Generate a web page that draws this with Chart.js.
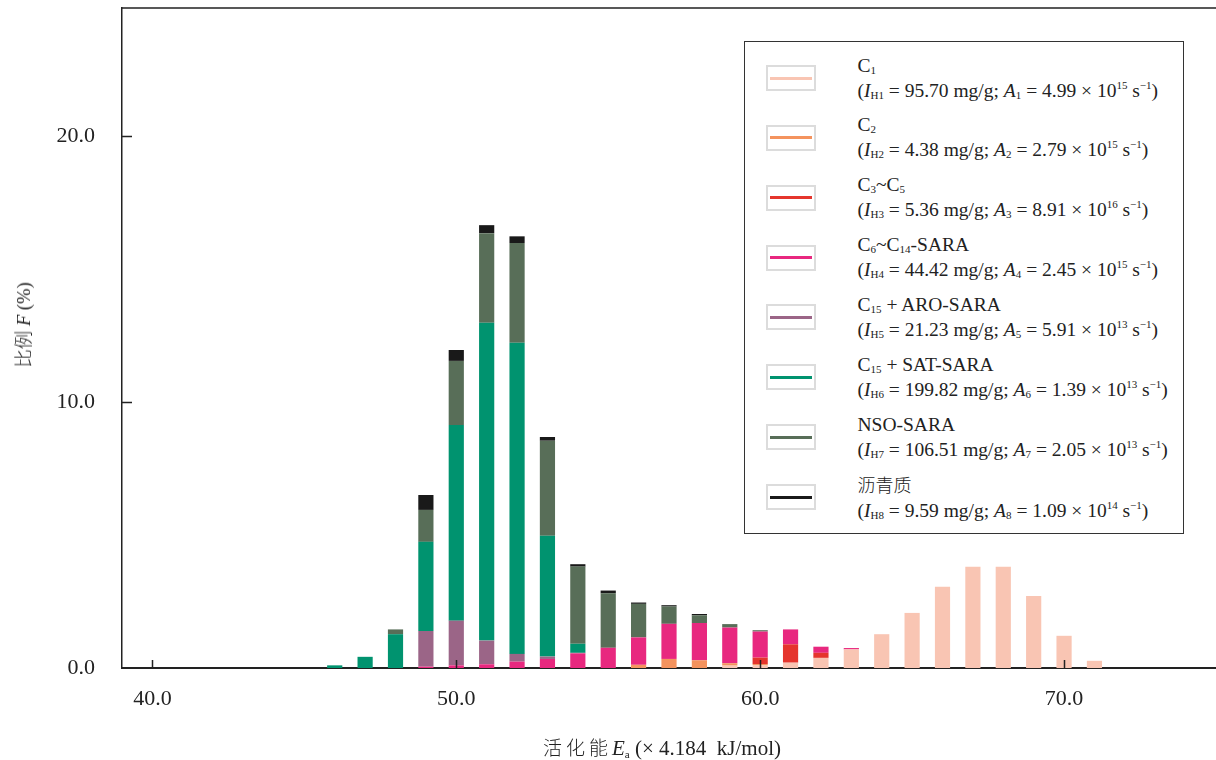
<!DOCTYPE html>
<html>
<head>
<meta charset="utf-8">
<script src="https://cdn.jsdelivr.net/npm/chart.js@4.4.1/dist/chart.umd.min.js"></script>
<style>
  html, body { margin: 0; padding: 0; background: #fff; }
  #wrap { position: relative; width: 1216px; height: 760px; overflow: hidden; background: #fff; }
  #chart { display: block; }
  .serif { font-family: "Liberation Serif", "Times New Roman", serif; color: #222; }
  .cjk { font-family: "Noto Sans CJK SC", "Noto Sans", sans-serif; font-weight: 300; }
  #legend { position: absolute; left: 744px; top: 41px; width: 440px; height: 493px;
            border: 1.5px solid #333; background: #fff; box-sizing: border-box; }
  .swatch { position: absolute; width: 50px; height: 26px; border: 2px solid #dcdcdc; box-sizing: border-box; background: #fff; }
  .swatch i { position: absolute; left: 2px; right: 2px; top: 50%; height: 3px; margin-top: -1.5px; }
  .txt { position: absolute; font-size: 19.5px; line-height: 25px; white-space: nowrap; }
  .txt sub, .txt sup { font-size: 11px; line-height: 0; }
  .txt sub { vertical-align: -2px; }
  .txt sup { vertical-align: 8px; }
  .txt .cjk { font-size: 18px; }
  #ytitle { position: absolute; left: 22px; top: 325px; font-size: 18.5px; white-space: nowrap;
            transform: translate(-50%, -50%) rotate(-90deg); }
  #xtitle { position: absolute; left: 662px; top: 747px; font-size: 21px; white-space: nowrap;
            transform: translate(-50%, -50%); }
  #xtitle .cjk { font-size: 19px; letter-spacing: 4px; }
  #xtitle sub { font-size: 11px; line-height: 0; vertical-align: -3px; }
</style>
</head>
<body>
<div id="wrap">
  <canvas id="chart" width="1216" height="760"></canvas>
  <div id="legend" class="serif"></div>
  <div id="ytitle" class="serif"><span class="cjk">比例</span> <i>F</i> (%)</div>
  <div id="xtitle" class="serif"><span class="cjk">活化能</span><i>E</i><sub>a</sub> (× 4.184&nbsp; kJ/mol)</div>
</div>
<script>
// Activation energy bins (× 4.184 kJ/mol)
const energies = [46, 47, 48, 49, 50, 51, 52, 53, 54, 55, 56, 57, 58, 59, 60, 61, 62, 63, 64, 65, 66, 67, 68, 69, 70, 71];

// Fraction F (%) of each component per energy bin
const c1      = [0, 0, 0, 0, 0, 0, 0, 0, 0, 0, 0, 0, 0, 0.09, 0.11, 0.20, 0.38, 0.70, 1.27, 2.07, 3.05, 3.80, 3.80, 2.71, 1.21, 0.27];
const c2      = [0, 0, 0, 0, 0, 0, 0, 0, 0, 0, 0.12, 0.34, 0.29, 0.09, 0.04, 0, 0, 0, 0, 0, 0, 0, 0, 0, 0, 0];
const c3c5    = [0, 0, 0, 0, 0, 0, 0, 0, 0, 0, 0, 0, 0, 0, 0.24, 0.69, 0.19, 0, 0, 0, 0, 0, 0, 0, 0, 0];
const c6c14   = [0, 0, 0, 0.05, 0.10, 0.14, 0.24, 0.34, 0.55, 0.76, 1.03, 1.32, 1.40, 1.34, 0.98, 0.56, 0.23, 0.05, 0, 0, 0, 0, 0, 0, 0, 0];
const c15aro  = [0, 0, 0, 1.34, 1.68, 0.89, 0.29, 0.09, 0.02, 0, 0, 0, 0, 0, 0, 0, 0, 0, 0, 0, 0, 0, 0, 0, 0, 0];
const c15sat  = [0.10, 0.42, 1.27, 3.35, 7.35, 11.94, 11.69, 4.54, 0.34, 0, 0, 0, 0, 0, 0, 0, 0, 0, 0, 0, 0, 0, 0, 0, 0, 0];
const nso     = [0, 0, 0.18, 1.20, 2.41, 3.37, 3.75, 3.57, 2.90, 2.05, 1.26, 0.65, 0.29, 0.13, 0.05, 0, 0, 0, 0, 0, 0, 0, 0, 0, 0, 0];
const asphalt = [0, 0, 0, 0.56, 0.41, 0.30, 0.25, 0.14, 0.09, 0.10, 0.05, 0.05, 0.05, 0, 0, 0, 0, 0, 0, 0, 0, 0, 0, 0, 0, 0];

// Component names and kinetic parameters
const names     = ["C1", "C2", "C3~C5", "C6~C14-SARA", "C15 + ARO-SARA", "C15 + SAT-SARA", "NSO-SARA", "沥青质"];
const ihValues  = [95.70, 4.38, 5.36, 44.42, 21.23, 199.82, 106.51, 9.59];   // mg/g
const aMantissa = [4.99, 2.79, 8.91, 2.45, 5.91, 1.39, 2.05, 1.09];
const aExponent = [15, 15, 16, 15, 13, 13, 13, 14];

// Axis ticks
const xTicks = [40, 50, 60, 70];
const yTicks = [0, 10, 20];

const seriesValues = [c1, c2, c3c5, c6c14, c15aro, c15sat, nso, asphalt];
const palette = ["#F9C5B3", "#F4935E", "#E5352D", "#E8287F", "#9B6587", "#00936F", "#586E58", "#191919"];

const datasets = seriesValues.map((vals, k) => ({
  label: names[k],
  data: energies.map((e, i) => ({ x: e, y: vals[i] })),
  backgroundColor: palette[k],
  borderWidth: 0,
  barPercentage: 0.5,
  categoryPercentage: 1.0
}));

// Top frame line and inward tick marks
const frame = {
  id: "frame",
  afterDatasetsDraw(chart) {
    const { ctx, chartArea: a, scales: { x, y } } = chart;
    ctx.save();
    ctx.strokeStyle = "#222";
    ctx.lineWidth = 1.5;
    ctx.beginPath();
    ctx.moveTo(a.left, a.top);
    ctx.lineTo(a.right, a.top);
    xTicks.forEach(v => {
      const p = Math.round(x.getPixelForValue(v)) + 0.5;
      ctx.moveTo(p, a.bottom);
      ctx.lineTo(p, a.bottom - 8);
    });
    yTicks.forEach(v => {
      if (v === 0) return;
      const p = Math.round(y.getPixelForValue(v)) + 0.5;
      ctx.moveTo(a.left, p);
      ctx.lineTo(a.left + 10, p);
    });
    ctx.stroke();
    ctx.restore();
  }
};

Chart.defaults.font.family = '"Liberation Serif", "Times New Roman", serif';
Chart.defaults.color = "#222";

const chart = new Chart(document.getElementById("chart"), {
  type: "bar",
  data: { datasets },
  options: {
    responsive: false,
    animation: false,
    layout: { padding: { top: 8, left: 0, right: 0, bottom: 0 } },
    plugins: { legend: { display: false }, tooltip: { enabled: true } },
    scales: {
      x: {
        type: "linear",
        min: 39, max: 75,
        stacked: true,
        offset: false,
        z: 1,
        grid: { display: false, drawTicks: false, offset: false },
        border: { display: true, color: "#222", width: 2 },
        afterBuildTicks: s => { s.ticks = xTicks.map(v => ({ value: v })); },
        afterFit: s => { s.height = 92; s.paddingLeft = 0; s.paddingRight = 0; },
        ticks: { padding: 18, font: { size: 22 }, color: "#222", callback: v => v.toFixed(1), maxRotation: 0 }
      },
      y: {
        min: 0, max: 24.8,
        stacked: true,
        grid: { display: false, drawTicks: false },
        border: { display: true, color: "#222", width: 1.5 },
        afterBuildTicks: s => { s.ticks = yTicks.map(v => ({ value: v })); },
        afterFit: s => { s.width = 122; s.paddingTop = 0; s.paddingBottom = 0; },
        ticks: { padding: 27, font: { size: 22 }, color: "#222", callback: v => v.toFixed(1) }
      }
    }
  },
  plugins: [frame]
});

// Legend built from the chart's datasets
function withSubscripts(name) {
  return name.replace(/C(\d+)/g, "C<sub>$1</sub>");
}
const legend = document.getElementById("legend");
const step = 59.86;
chart.data.datasets.forEach((ds, k) => {
  const top = 10.5 + k * step;
  const sw = document.createElement("div");
  sw.className = "swatch";
  sw.style.left = "20.5px";
  sw.style.top = (top + 12.5) + "px";
  const line = document.createElement("i");
  line.style.background = ds.backgroundColor;
  sw.appendChild(line);
  legend.appendChild(sw);

  const t = document.createElement("div");
  t.className = "txt";
  t.style.left = "112.5px";
  t.style.top = top + "px";
  const n = k + 1;
  const title = ds.label === "沥青质" ? '<span class="cjk">' + ds.label + '</span>' : withSubscripts(ds.label);
  t.innerHTML = title + "<br>(<i>I</i><sub>H" + n + "</sub> = " + ihValues[k].toFixed(2) +
    " mg/g; <i>A</i><sub>" + n + "</sub> = " + aMantissa[k].toFixed(2) + " × 10<sup>" + aExponent[k] +
    "</sup> s<sup>−1</sup>)";
  legend.appendChild(t);
});
</script>
</body>
</html>
